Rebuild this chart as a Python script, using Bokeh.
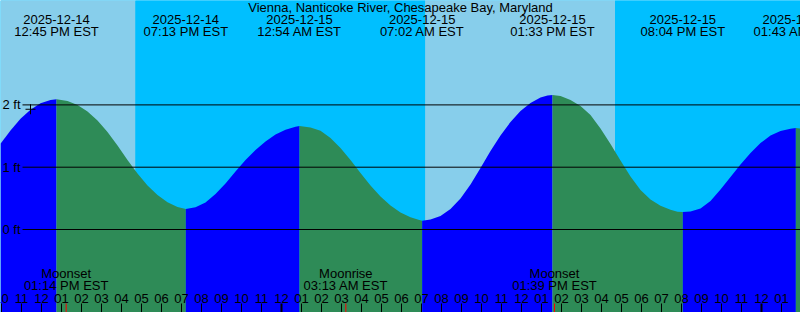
from bokeh.plotting import figure
from bokeh.models import Range1d
from bokeh.core.properties import value
from bokeh.embed import file_html
from bokeh.resources import INLINE
import math

TITLE = "Vienna, Nanticoke River, Chesapeake Bay, Maryland"

# all times: hours relative to 2025-12-15 00:00 EST
ext_hours = [-11.25, -4.783, 0.9, 7.033, 13.55, 20.067, 25.717]
ext_ft = [2.09, 0.33, 1.66, 0.14, 2.16, 0.28, 1.63]
ext_dates = ["2025-12-14", "2025-12-14", "2025-12-15", "2025-12-15",
             "2025-12-15", "2025-12-15", "2025-12-16"]
ext_times = ["12:45 PM EST", "07:13 PM EST", "12:54 AM EST", "07:02 AM EST",
             "01:33 PM EST", "08:04 PM EST", "01:43 AM EST"]

curve_hours = [-14.05, -13.55, -13.05, -12.55, -12.05, -11.55,
               -10.7, -10.2, -9.7, -9.2, -8.7, -8.2, -7.7, -7.2, -6.7, -6.2, -5.7, -5.2,
               -4.3, -3.8, -3.3, -2.8, -2.3, -1.8, -1.3, -0.8, -0.3, 0.2, 0.7,
               1.45, 1.95, 2.45, 2.95, 3.45, 3.95, 4.45, 4.95, 5.45, 5.95, 6.45, 6.85,
               7.45, 7.95, 8.45, 8.95, 9.45, 9.95, 10.45, 10.95, 11.45, 11.95, 12.45, 12.95, 13.3,
               13.95, 14.45, 14.95, 15.45, 15.95, 16.45, 16.95, 17.45, 17.95, 18.45, 18.95, 19.45, 19.8,
               20.45, 20.95, 21.45, 21.95, 22.45, 22.95, 23.45, 23.95, 24.45, 24.95, 25.45,
               25.95]
curve_ft = [1.376, 1.589, 1.777, 1.921, 2.027, 2.079,
            2.063, 1.998, 1.894, 1.750, 1.565, 1.348, 1.116, 0.899, 0.706, 0.554, 0.437, 0.361,
            0.356, 0.433, 0.570, 0.738, 0.931, 1.116, 1.276, 1.413, 1.525, 1.600, 1.650,
            1.637, 1.584, 1.469, 1.308, 1.116, 0.907, 0.706, 0.530, 0.385, 0.273, 0.196, 0.156,
            0.161, 0.217, 0.329, 0.498, 0.722, 0.987, 1.260, 1.509, 1.726, 1.902, 2.030, 2.119, 2.151,
            2.143, 2.079, 1.982, 1.838, 1.621, 1.372, 1.108, 0.851, 0.634, 0.482, 0.380, 0.316, 0.286,
            0.289, 0.337, 0.457, 0.642, 0.843, 1.043, 1.228, 1.388, 1.509, 1.581, 1.618,
            1.621]

sun_hours = [-7.3, 7.18, 16.68]
sun_kind = ["set", "rise", "set"]

moon_hours = [-10.767, 3.217, 13.65]
moon_names = ["Moonset", "Moonrise", "Moonset"]
moon_times = ["01:14 PM EST", "03:13 AM EST", "01:39 PM EST"]

level_ticks = [0, 1, 2]
level_labels = ["0 ft", "1 ft", "2 ft"]

now_hour = -12.55
now_ft = 1.93

# ---- layout helpers (pixel -> data) ----
W, H = 800, 312
X_MID = 281.0      # pixel of midnight 2025-12-15
PX_H = 20.0        # pixels per hour
Y_ZERO = 229.0     # pixel of 0 ft
PX_FT = 62.3       # pixels per foot


def hx(px):
    return (px - X_MID) / PX_H


def fy(py):
    return (Y_ZERO - py) / PX_FT


X0, X1 = hx(0), hx(W)
Y0, Y1 = fy(H), fy(0)

DAY = "#87CEEB"
NIGHT = "#00BFFF"
RISE = "#0000FF"
FALL = "#2E8B57"
FONT = value("Liberation Sans")

p = figure(width=W, height=H, x_range=Range1d(X0, X1), y_range=Range1d(Y0, Y1),
           toolbar_location=None, output_backend="svg", min_border=0,
           x_axis_type=None, y_axis_type=None)
p.outline_line_color = None
p.background_fill_color = NIGHT

# day / night bands
edges = [X0] + sun_hours + [X1]
kinds = ["day"] + ["night" if k == "set" else "day" for k in sun_kind]
p.quad(left=edges[:-1], right=edges[1:], bottom=Y0 - 1, top=Y1 + 1,
       fill_color=[DAY if k == "day" else NIGHT for k in kinds], line_color=None)

# tide fill, rising blue / falling green
pts = sorted(zip(curve_hours + ext_hours, curve_ft + ext_ft))
bounds = [X0] + ext_hours + [X1]
for a, b in zip(bounds[:-1], bounds[1:]):
    seg = [(t, f) for t, f in pts if a - 1e-9 <= t <= b + 1e-9]
    rising = seg[-1][1] > seg[0][1]
    p.varea(x=[t for t, _ in seg], y1=[Y0 - 1] * len(seg), y2=[f for _, f in seg],
            fill_color=RISE if rising else FALL)

# level lines
p.segment(x0=[hx(22)] * len(level_ticks), x1=[X1] * len(level_ticks),
          y0=level_ticks, y1=level_ticks, line_color="black", line_width=1)
p.text(x=[hx(2)] * len(level_ticks), y=level_ticks, text=level_labels,
       text_font=FONT, text_font_size="13px", text_align="left",
       text_baseline="middle", text_color="black")

# current time marker
p.scatter(x=[now_hour], y=[now_ft], marker="cross", size=10,
          line_color="black", line_width=1)

# title and extremes
p.text(x=[hx(400)], y=[fy(7)], text=[TITLE], text_font=FONT, text_font_size="13px",
       text_align="center", text_baseline="middle", text_color="black")
p.text(x=ext_hours, y=[fy(19)] * len(ext_hours), text=ext_dates, text_font=FONT,
       text_font_size="13px", text_align="center", text_baseline="middle")
p.text(x=ext_hours, y=[fy(31)] * len(ext_hours), text=ext_times, text_font=FONT,
       text_font_size="13px", text_align="center", text_baseline="middle")

# moon events
p.text(x=moon_hours, y=[fy(273)] * len(moon_hours), text=moon_names, text_font=FONT,
       text_font_size="13px", text_align="center", text_baseline="middle")
p.text(x=moon_hours, y=[fy(285)] * len(moon_hours), text=moon_times, text_font=FONT,
       text_font_size="13px", text_align="center", text_baseline="middle")

# hour ticks
hours = list(range(math.ceil(X0), math.floor(X1) + 1))
labels = ["%02d" % (12 if h % 12 == 0 else h % 12) for h in hours]
thin = [h for h in hours if h % 24 != 0]
thick = [h for h in hours if h % 24 == 0]
p.segment(x0=thin, x1=thin, y0=[fy(303)] * len(thin), y1=[fy(313)] * len(thin),
          line_color="black", line_width=1)
p.segment(x0=thick, x1=thick, y0=[fy(303)] * len(thick), y1=[fy(313)] * len(thick),
          line_color="black", line_width=2)
p.segment(x0=moon_hours, x1=moon_hours, y0=[fy(303)] * len(moon_hours),
          y1=[fy(313)] * len(moon_hours), line_color="red", line_width=1)
p.text(x=hours, y=[fy(297.5)] * len(hours), text=labels, text_font=FONT,
       text_font_size="13px", text_align="center", text_baseline="middle")

open("out.html", "w").write(file_html(p, INLINE))
